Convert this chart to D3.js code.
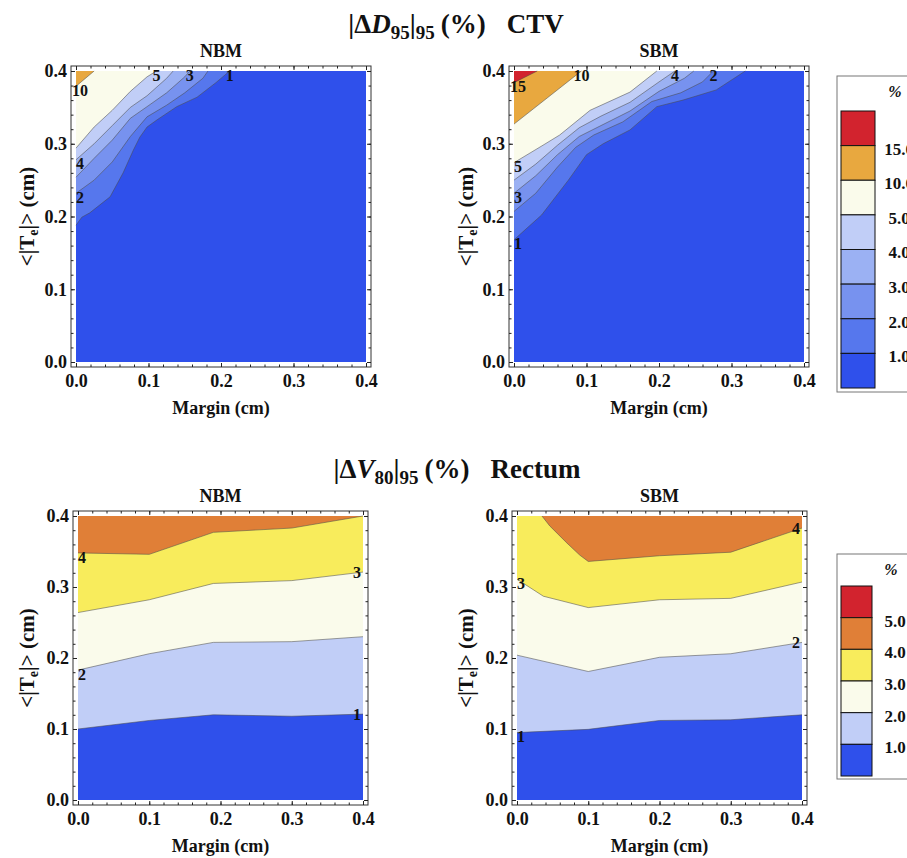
<!DOCTYPE html>
<html>
<head>
<meta charset="utf-8">
<script src="https://cdn.jsdelivr.net/npm/d3@7"></script>
<style>
  body { margin: 0; background: #fff; }
  svg text { font-family: "Liberation Serif", "Times New Roman", serif; font-weight: bold; fill: #111; }
</style>
</head>
<body>
<div id="chart"></div>
<script>
// contour levels and band colours (lowest band first)
var ctvLevels = [1, 2, 3, 4, 5, 10, 15];
var ctvColors = ["#2f50eb", "#5677ed", "#7792ef", "#9bb1f3", "#c1cef7", "#fafbeb", "#e8a83f", "#d2232e"];
var ctvLegendLabels = ["15.0", "10.0", "5.0", "4.0", "3.0", "2.0", "1.0"];

var rectumLevels = [1, 2, 3, 4, 5];
var rectumColors = ["#2f50eb", "#c1cef7", "#fafbeb", "#f8ec5c", "#e07f37", "#d2232e"];
var rectumLegendLabels = ["5.0", "4.0", "3.0", "2.0", "1.0"];

var axisTicks = [0, 0.1, 0.2, 0.3, 0.4];

// isolines, points are [margin, <|Te|>], one line per level
var ctvNbmLines = [
  [[0,0.188],[0.008,0.199],[0.019,0.205],[0.047,0.227],[0.065,0.26],[0.079,0.291],[0.088,0.309],[0.098,0.323],[0.112,0.333],[0.139,0.351],[0.167,0.364],[0.193,0.384],[0.212,0.4]],
  [[0,0.232],[0.025,0.25],[0.05,0.275],[0.075,0.31],[0.098,0.337],[0.125,0.353],[0.15,0.37],[0.175,0.39],[0.182,0.4]],
  [[0,0.254],[0.025,0.28],[0.05,0.305],[0.075,0.335],[0.098,0.351],[0.125,0.37],[0.15,0.392],[0.157,0.4]],
  [[0,0.278],[0.025,0.30],[0.05,0.325],[0.075,0.35],[0.098,0.366],[0.125,0.39],[0.134,0.4]],
  [[0,0.294],[0.025,0.323],[0.05,0.346],[0.075,0.372],[0.098,0.392],[0.111,0.4]],
  [[0,0.379],[0.025,0.4]]
];
var ctvNbmLabelAt = ["end", "start", "end", "start", "end", "start"];

var ctvSbmLines = [
  [[0,0.168],[0.038,0.202],[0.075,0.25],[0.1,0.285],[0.123,0.30],[0.16,0.319],[0.197,0.351],[0.233,0.36],[0.279,0.374],[0.319,0.4]],
  [[0,0.207],[0.03,0.232],[0.06,0.268],[0.085,0.295],[0.11,0.312],[0.15,0.33],[0.19,0.358],[0.23,0.37],[0.26,0.385],[0.275,0.4]],
  [[0,0.232],[0.03,0.256],[0.06,0.285],[0.09,0.31],[0.12,0.325],[0.16,0.345],[0.2,0.372],[0.235,0.39],[0.248,0.4]],
  [[0,0.25],[0.03,0.272],[0.06,0.298],[0.09,0.322],[0.12,0.338],[0.16,0.357],[0.2,0.385],[0.222,0.4]],
  [[0,0.274],[0.04,0.298],[0.063,0.312],[0.105,0.346],[0.16,0.371],[0.197,0.4]],
  [[0,0.327],[0.093,0.4]],
  [[0,0.384],[0.032,0.4]]
];
var ctvSbmLabelAt = ["start", "end", "start", "end", "start", "end", "start"];

var rectumNbmLines = [
  [[0,0.100],[0.1,0.112],[0.19,0.120],[0.3,0.118],[0.4,0.121]],
  [[0,0.183],[0.1,0.206],[0.19,0.222],[0.3,0.223],[0.4,0.230]],
  [[0,0.264],[0.1,0.282],[0.19,0.305],[0.3,0.309],[0.4,0.321]],
  [[0,0.348],[0.1,0.346],[0.19,0.377],[0.3,0.383],[0.4,0.4]]
];
var rectumNbmLabelAt = ["end", "start", "end", "start"];

var rectumSbmLines = [
  [[0,0.095],[0.1,0.0995],[0.2,0.112],[0.3,0.113],[0.4,0.120]],
  [[0,0.204],[0.1,0.181],[0.2,0.201],[0.3,0.206],[0.4,0.222]],
  [[0,0.311],[0.037,0.287],[0.1,0.271],[0.2,0.282],[0.3,0.284],[0.4,0.307]],
  [[0.035,0.4],[0.046,0.386],[0.07,0.362],[0.088,0.345],[0.1,0.336],[0.2,0.344],[0.3,0.349],[0.4,0.383]]
];
var rectumSbmLabelAt = ["start", "end", "start", "end"];

var svg = d3.select("#chart").append("svg")
    .attr("width", 907)
    .attr("height", 858);

var fmt = d3.format(".1f");

function drawPanel(p) {
    var x = d3.scaleLinear().domain([0, 0.4]).range([p.left, p.right]);
    var y = d3.scaleLinear().domain([0, 0.4]).range([p.bottom, p.top]);
    var pad = 5;
    var g = svg.append("g");

    // lowest band fills the whole plot, each level paints the region above it
    g.append("rect")
        .attr("x", x(0)).attr("y", y(0.4))
        .attr("width", x(0.4) - x(0)).attr("height", y(0) - y(0.4))
        .attr("fill", p.colors[0]);

    var line = d3.line().x(function(d) { return x(d[0]); }).y(function(d) { return y(d[1]); });

    p.lines.forEach(function(pts, i) {
        var poly = pts.slice();
        if (pts[pts.length - 1][0] >= 0.4) poly.push([0.4, 0.4]);
        if (pts[0][0] <= 0) poly.push([0, 0.4]);
        g.append("path")
            .attr("d", line(poly) + "Z")
            .attr("fill", p.colors[i + 1]);
    });

    p.lines.forEach(function(pts) {
        g.append("path")
            .attr("d", line(pts))
            .style("fill", "none")
            .style("stroke", "#4a4a4a")
            .style("stroke-opacity", 0.6)
            .style("stroke-width", 0.9);
    });

    // contour labels at one end of each line
    p.lines.forEach(function(pts, i) {
        var d = p.labelAt[i] == "start" ? pts[0] : pts[pts.length - 1];
        var px = x(d[0]), py = y(d[1]);
        if (d[0] <= 0) { px += 4; py += 4; }
        else if (d[0] >= 0.4) { px -= 6; }
        else if (d[1] >= 0.4) { py += 4; }
        g.append("text")
            .attr("x", px).attr("y", py)
            .attr("dy", "0.35em")
            .attr("text-anchor", "middle")
            .style("font-size", "16px")
            .text(p.levels[i]);
    });

    // frame
    var fl = p.left - pad, fr = p.right + pad, ft = p.top - pad, fb = p.bottom + pad;
    g.append("rect")
        .attr("x", fl).attr("y", ft)
        .attr("width", fr - fl).attr("height", fb - ft)
        .style("fill", "none")
        .style("stroke", "#333")
        .style("stroke-width", 1);

    // ticks pointing inward on all four sides
    var axes = [
        [d3.axisBottom(x).tickValues(axisTicks).tickFormat(fmt).tickSize(-4).tickPadding(7), "translate(0," + fb + ")"],
        [d3.axisBottom(x).tickValues(x.ticks(20)).tickFormat("").tickSize(-2.5), "translate(0," + fb + ")"],
        [d3.axisTop(x).tickValues(axisTicks).tickFormat("").tickSize(-4), "translate(0," + ft + ")"],
        [d3.axisTop(x).tickValues(x.ticks(20)).tickFormat("").tickSize(-2.5), "translate(0," + ft + ")"],
        [d3.axisLeft(y).tickValues(axisTicks).tickFormat(fmt).tickSize(-4).tickPadding(4), "translate(" + fl + ",0)"],
        [d3.axisLeft(y).tickValues(y.ticks(20)).tickFormat("").tickSize(-2.5), "translate(" + fl + ",0)"],
        [d3.axisRight(y).tickValues(axisTicks).tickFormat("").tickSize(-4), "translate(" + fr + ",0)"],
        [d3.axisRight(y).tickValues(y.ticks(20)).tickFormat("").tickSize(-2.5), "translate(" + fr + ",0)"]
    ];
    axes.forEach(function(a) {
        var ag = g.append("g").attr("transform", a[1]).call(a[0]);
        ag.select(".domain").remove();
        ag.selectAll("line").style("stroke", "#222");
        ag.attr("font-family", null).attr("font-size", null);
        ag.selectAll("text").style("font-size", "18px").style("fill", "#111");
    });

    // subtitle
    g.append("text")
        .attr("x", (fl + fr) / 2).attr("y", ft - 9)
        .attr("text-anchor", "middle")
        .style("font-size", "18px")
        .text(p.name);

    // x axis label
    g.append("text")
        .attr("x", (fl + fr) / 2).attr("y", fb + 47)
        .attr("text-anchor", "middle")
        .style("font-size", "18px")
        .text("Margin (cm)");

    // y axis label
    var yl = g.append("text")
        .attr("transform", "translate(" + p.yLabelX + "," + ((p.top + p.bottom) / 2) + ") rotate(-90)")
        .attr("text-anchor", "middle")
        .attr("dy", "0.35em")
        .style("font-size", "21px");
    yl.append("tspan").text("<|T");
    yl.append("tspan").attr("dy", 4).style("font-size", "14px").text("e");
    yl.append("tspan").attr("dy", -4).text("|> (cm)");
}

function drawTitle(xc, yb, letter, sub, organ) {
    var t = svg.append("text")
        .attr("x", xc).attr("y", yb)
        .attr("text-anchor", "middle")
        .style("font-size", "27px");
    t.append("tspan").text("|\u0394");
    t.append("tspan").style("font-style", "italic").text(letter);
    t.append("tspan").attr("dy", 6).style("font-size", "19px").text(sub);
    t.append("tspan").attr("dy", -6).text("|");
    t.append("tspan").attr("dy", 6).style("font-size", "19px").text("95");
    t.append("tspan").attr("dy", -6).attr("dx", 6).text("(%)");
    t.append("tspan").attr("dx", 21).text(organ);
}

function drawLegend(l) {
    var g = svg.append("g");
    g.append("rect")
        .attr("x", l.x).attr("y", l.y)
        .attr("width", 100).attr("height", l.height)
        .style("fill", "#fff")
        .style("stroke", "#777")
        .style("stroke-width", 1);
    g.append("text")
        .attr("x", l.labelX - 4).attr("y", l.y + 21)
        .attr("text-anchor", "middle")
        .style("font-size", "16px")
        .style("font-style", "italic")
        .text("%");
    var colorsTopDown = l.colors.slice().reverse();
    var band = d3.scaleBand()
        .domain(d3.range(colorsTopDown.length))
        .range([l.swTop, l.swBottom]);
    g.selectAll("rect.sw")
        .data(colorsTopDown)
        .enter().append("rect")
        .attr("class", "sw")
        .attr("x", l.x + 4)
        .attr("y", function(d, i) { return band(i); })
        .attr("width", l.swWidth)
        .attr("height", band.bandwidth())
        .style("fill", function(d) { return d; })
        .style("stroke", "#111")
        .style("stroke-width", 1);
    g.selectAll("text.lab")
        .data(l.labels)
        .enter().append("text")
        .attr("class", "lab")
        .attr("x", l.labelX)
        .attr("y", function(d, i) { return band(i) + band.bandwidth() + 3; })
        .attr("dy", "0.35em")
        .attr("text-anchor", "middle")
        .style("font-size", "17px")
        .text(function(d) { return d; });
}

drawTitle(456, 33, "D", "95", "CTV");
drawTitle(457, 478, "V", "80", "Rectum");

drawPanel({name: "NBM", left: 76, right: 366, top: 71, bottom: 362, yLabelX: 27,
    lines: ctvNbmLines, levels: ctvLevels, colors: ctvColors, labelAt: ctvNbmLabelAt});
drawPanel({name: "SBM", left: 514, right: 804, top: 71, bottom: 362, yLabelX: 466,
    lines: ctvSbmLines, levels: ctvLevels, colors: ctvColors, labelAt: ctvSbmLabelAt});
drawPanel({name: "NBM", left: 78, right: 363, top: 516, bottom: 800, yLabelX: 27,
    lines: rectumNbmLines, levels: rectumLevels, colors: rectumColors, labelAt: rectumNbmLabelAt});
drawPanel({name: "SBM", left: 517, right: 802, top: 516, bottom: 800, yLabelX: 466,
    lines: rectumSbmLines, levels: rectumLevels, colors: rectumColors, labelAt: rectumSbmLabelAt});

drawLegend({x: 837, y: 76, height: 316, swTop: 111, swBottom: 388, swWidth: 34,
    colors: ctvColors, labels: ctvLegendLabels, labelX: 899});
drawLegend({x: 837, y: 554, height: 225, swTop: 586, swBottom: 776, swWidth: 31,
    colors: rectumColors, labels: rectumLegendLabels, labelX: 895});
</script>
</body>
</html>
